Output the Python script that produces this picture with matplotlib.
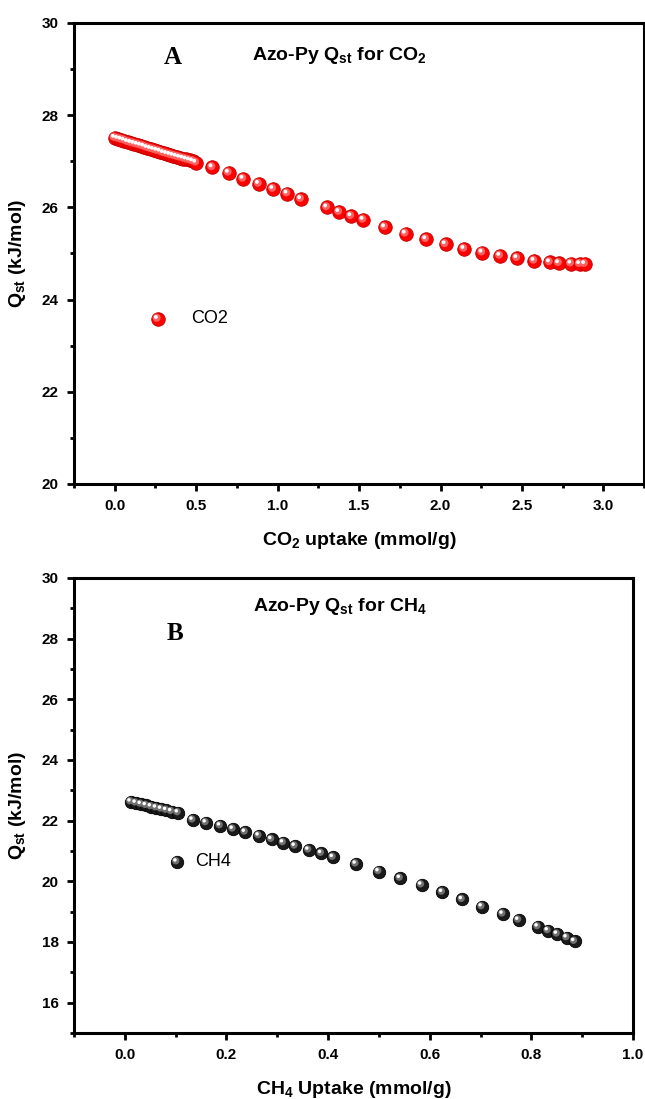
import matplotlib
matplotlib.use("Agg")
import matplotlib.pyplot as plt
import matplotlib.transforms as mtransforms
from matplotlib.ticker import MultipleLocator

plt.rcParams["font.family"] = ["Liberation Sans", "DejaVu Sans"]
plt.rcParams["font.weight"] = "bold"
plt.rcParams["axes.labelweight"] = "bold"
plt.rcParams["mathtext.fontset"] = "custom"
plt.rcParams["mathtext.rm"] = "Liberation Sans:bold"
plt.rcParams["mathtext.it"] = "Liberation Sans:bold"
plt.rcParams["mathtext.bf"] = "Liberation Sans:bold"

# CO2 isosteric heat (panel A)
co2_uptake = [0.00, 0.02, 0.04, 0.06, 0.08, 0.10, 0.12, 0.14, 0.16, 0.18,
              0.20, 0.22, 0.24, 0.26, 0.28, 0.30, 0.32, 0.34, 0.36, 0.38,
              0.40, 0.42, 0.44, 0.46, 0.48, 0.50,
              0.60, 0.70, 0.79, 0.885, 0.973, 1.06, 1.144,
              1.304, 1.378, 1.452, 1.527, 1.659, 1.786, 1.912, 2.031, 2.146,
              2.257, 2.366, 2.471, 2.576, 2.671, 2.727, 2.802, 2.856, 2.887]
co2_qst = [27.51, 27.49, 27.47, 27.45, 27.42, 27.40, 27.38, 27.36, 27.34, 27.32,
           27.29, 27.27, 27.25, 27.23, 27.21, 27.18, 27.16, 27.14, 27.12, 27.10,
           27.08, 27.06, 27.04, 27.02, 27.00, 26.97,
           26.87, 26.75, 26.62, 26.51, 26.40, 26.30, 26.18,
           26.00, 25.90, 25.81, 25.73, 25.57, 25.43, 25.31, 25.20, 25.10,
           25.02, 24.95, 24.90, 24.84, 24.81, 24.79, 24.78, 24.77, 24.77]

# CH4 isosteric heat (panel B)
ch4_uptake = [0.012, 0.022, 0.032, 0.042, 0.052, 0.062, 0.072, 0.082, 0.092, 0.105,
              0.134, 0.160, 0.188, 0.213, 0.237, 0.264, 0.289, 0.312, 0.335,
              0.362, 0.387, 0.410, 0.455, 0.500, 0.542, 0.584, 0.625, 0.664,
              0.703, 0.744, 0.775, 0.813, 0.833, 0.851, 0.870, 0.885]
ch4_qst = [22.62, 22.58, 22.54, 22.50, 22.46, 22.42, 22.38, 22.34, 22.30, 22.26,
           22.02, 21.93, 21.83, 21.72, 21.62, 21.50, 21.38, 21.27, 21.16,
           21.03, 20.92, 20.79, 20.57, 20.32, 20.10, 19.88, 19.64, 19.40,
           19.16, 18.92, 18.72, 18.50, 18.37, 18.26, 18.14, 18.02]


def spheres(ax, x, y, base, edge, mid, size, transform=None):
    tr = ax.transData if transform is None else transform
    fig = ax.figure
    ax.scatter(x, y, s=size, c=base, edgecolors=edge, linewidths=0.6,
               transform=tr, zorder=3, clip_on=False)
    off1 = tr + mtransforms.ScaledTranslation(-0.8 / 72, 0.8 / 72, fig.dpi_scale_trans)
    ax.scatter(x, y, s=size * 0.35, c=mid, edgecolors="none",
               transform=off1, zorder=4, clip_on=False)
    off2 = tr + mtransforms.ScaledTranslation(-1.4 / 72, 1.4 / 72, fig.dpi_scale_trans)
    ax.scatter(x, y, s=size * 0.08, c="white", edgecolors="none",
               transform=off2, zorder=5, clip_on=False)


def style_axes(ax):
    for sp in ax.spines.values():
        sp.set_linewidth(2.2)
    ax.tick_params(which="major", direction="out", length=5, width=2, labelsize=11, pad=6)
    ax.tick_params(which="minor", direction="out", length=3, width=2)
    for lab in ax.get_xticklabels() + ax.get_yticklabels():
        lab.set_fontweight("bold")


fig = plt.figure(figsize=(6.45, 10.99), dpi=100)
axA = fig.add_axes([0.1147, 0.5596, 0.884, 0.4195])
axB = fig.add_axes([0.1147, 0.0601, 0.8667, 0.414])

# Panel A
axA.set_xlim(-0.25, 3.25)
axA.set_ylim(20, 30)
axA.xaxis.set_minor_locator(MultipleLocator(0.25))
axA.yaxis.set_major_locator(MultipleLocator(2))
axA.yaxis.set_minor_locator(MultipleLocator(1))
axA.set_xticks([0.0, 0.5, 1.0, 1.5, 2.0, 2.5, 3.0])
axA.set_xticklabels(["0.0", "0.5", "1.0", "1.5", "2.0", "2.5", "3.0"])
style_axes(axA)
spheres(axA, co2_uptake, co2_qst, "#ff0000", "#c00000", "#ff6060", 95)
spheres(axA, [0.147], [0.358], "#ff0000", "#c00000", "#ff6060", 95, transform=axA.transAxes)
axA.text(0.205, 0.358, "CO2", transform=axA.transAxes, fontsize=13,
         fontweight="normal", va="center")
axA.text(0.174, 0.926, "A", transform=axA.transAxes, fontsize=18,
         family=["Liberation Serif", "DejaVu Serif"], fontweight="bold", ha="center", va="center")
axA.text(0.312, 0.93, r"Azo-Py Q$_{\mathrm{st}}$ for CO$_{\mathrm{2}}$", transform=axA.transAxes,
         fontsize=14, fontweight="bold", ha="left", va="center")
axA.set_xlabel(r"CO$_{\mathrm{2}}$ uptake (mmol/g)", fontsize=14, fontweight="bold", labelpad=12)
axA.set_ylabel(r"Q$_{\mathrm{st}}$ (kJ/mol)", fontsize=14, fontweight="bold", labelpad=10)

# Panel B
axB.set_xlim(-0.1, 1.0)
axB.set_ylim(15, 30)
axB.xaxis.set_minor_locator(MultipleLocator(0.1))
axB.set_yticks([16, 18, 20, 22, 24, 26, 28, 30])
axB.yaxis.set_minor_locator(MultipleLocator(1))
axB.set_xticks([0.0, 0.2, 0.4, 0.6, 0.8, 1.0])
axB.set_xticklabels(["0.0", "0.2", "0.4", "0.6", "0.8", "1.0"])
style_axes(axB)
spheres(axB, ch4_uptake, ch4_qst, "#1a1a1a", "#000000", "#707070", 80)
spheres(axB, [0.184], [0.376], "#1a1a1a", "#000000", "#707070", 80, transform=axB.transAxes)
axB.text(0.216, 0.376, "CH4", transform=axB.transAxes, fontsize=13,
         fontweight="normal", va="center")
axB.text(0.181, 0.879, "B", transform=axB.transAxes, fontsize=18,
         family=["Liberation Serif", "DejaVu Serif"], fontweight="bold", ha="center", va="center")
axB.text(0.32, 0.938, r"Azo-Py Q$_{\mathrm{st}}$ for CH$_{\mathrm{4}}$", transform=axB.transAxes,
         fontsize=14, fontweight="bold", ha="left", va="center")
axB.set_xlabel(r"CH$_{\mathrm{4}}$ Uptake (mmol/g)", fontsize=14, fontweight="bold", labelpad=12)
axB.set_ylabel(r"Q$_{\mathrm{st}}$ (kJ/mol)", fontsize=14, fontweight="bold", labelpad=10)

fig.savefig("out.png", dpi=100)
